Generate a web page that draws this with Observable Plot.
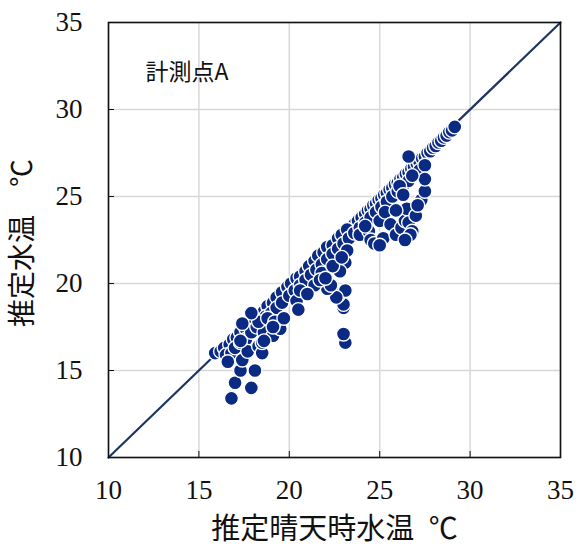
<!DOCTYPE html>
<html><head><meta charset="utf-8">
<script src="https://cdn.jsdelivr.net/npm/d3@7"></script>
<script src="https://cdn.jsdelivr.net/npm/@observablehq/plot@0.6"></script>
<style>
body{margin:0;background:#fff;}
#chart svg{display:block;}
#chart svg g[aria-label="x-axis tick label"] text,
#chart svg g[aria-label="y-axis tick label"] text{font-family:'Liberation Serif','DejaVu Serif',serif !important;}
</style>
</head><body><div id="chart"></div>
<script>
// Tick values
const ticks = [10, 15, 20, 25, 30, 35];
const refLine = [10, 35];

// Dense points along the 1:1 line at the warm end (heavily overlapped)
const denseX = [23.6, 23.8, 24.0, 24.2, 24.35, 24.5, 24.65, 24.8, 24.95, 25.1, 25.25, 25.4, 25.55, 25.7, 25.85, 26.0, 26.15, 26.3, 26.45, 26.6, 26.75, 26.9, 27.05, 27.2, 27.35, 27.5, 27.65, 27.8, 27.95, 28.1, 28.25, 28.4, 28.55, 28.7, 28.85, 29.0, 29.15];
const denseY = [23.4, 23.6, 23.8, 24.0, 24.2, 24.3, 24.5, 24.6, 24.8, 24.9, 25.1, 25.2, 25.4, 25.5, 25.7, 25.8, 26.0, 26.1, 26.3, 26.4, 26.6, 26.7, 26.9, 27.0, 27.2, 27.3, 27.5, 27.6, 27.8, 27.9, 28.1, 28.2, 28.4, 28.5, 28.7, 28.8, 29.0];

// Points on the 1:1 line
const diagX = [15.9, 16.2, 16.4, 16.7, 16.9, 17.1, 17.3, 17.6, 17.8, 18.1, 18.3, 18.6, 18.8, 19.1, 19.3, 19.6, 19.9, 20.1, 20.4, 20.6, 20.9, 21.1, 21.4, 21.6, 21.9, 22.1, 22.4, 22.7, 22.9, 23.2];
const diagY = [16.0, 16.1, 16.3, 16.5, 16.8, 16.9, 17.2, 17.4, 17.6, 17.9, 18.2, 18.4, 18.7, 18.9, 19.2, 19.5, 19.8, 20.0, 20.3, 20.4, 20.7, 21.0, 21.3, 21.6, 21.8, 22.1, 22.2, 22.6, 22.8, 23.1];

// Band just below the 1:1 line
const bandX = [16.5, 16.8, 17.0, 17.3, 17.6, 17.9, 18.2, 18.5, 18.7, 19.0, 19.3, 19.6, 20.0, 20.3, 20.6, 20.9, 21.2, 21.5, 21.8, 22.1, 22.4, 22.7, 23.0, 23.3, 23.6, 23.9, 24.2, 24.5, 24.8, 25.1, 25.4, 25.7, 26.0, 26.3, 26.6, 26.9, 27.2, 27.5];
const bandY = [15.9, 16.0, 16.3, 16.6, 16.8, 17.2, 17.5, 17.8, 18.1, 18.3, 18.6, 18.9, 19.3, 19.6, 19.9, 20.2, 20.5, 20.8, 21.1, 21.4, 21.7, 22.0, 22.3, 22.6, 22.9, 23.2, 23.5, 23.8, 24.1, 24.4, 24.7, 25.0, 25.3, 25.6, 25.9, 26.2, 26.5, 26.8];

// Lower-left tail
const tailX = [16.8, 17.0, 17.9, 18.1, 17.3, 16.6, 17.4, 17.7, 17.3, 18.3, 18.5, 18.6, 18.3, 18.8, 19.1, 19.5, 19.2, 19.7, 18.5, 17.9, 17.4, 19.1, 18.6];
const tailY = [13.4, 14.3, 14.0, 15.0, 15.0, 15.5, 15.6, 16.1, 16.7, 16.4, 16.0, 17.2, 17.8, 18.0, 17.0, 17.4, 17.8, 18.0, 16.6, 18.3, 17.7, 17.5, 16.7];

// Middle cluster below the diagonal
const midX = [23.1, 23.0, 23.0, 23.0, 22.7, 23.1, 23.1, 22.8, 22.6, 22.1, 21.8, 22.3, 21.4, 21.7, 20.4, 20.6, 20.5, 21.0, 22.0, 22.4, 23.2, 22.9];
const midY = [16.6, 17.1, 18.6, 18.8, 19.3, 19.6, 21.2, 20.7, 19.2, 19.7, 20.6, 19.9, 19.9, 20.2, 19.0, 19.6, 18.5, 19.4, 20.3, 21.0, 21.9, 21.5];

// Upper-right cluster
const upX = [23.9, 24.4, 24.5, 24.7, 25.0, 25.2, 25.3, 25.6, 25.9, 26.2, 26.4, 26.5, 26.6, 26.8, 26.7, 27.0, 27.3, 27.5, 27.5, 26.1, 26.3, 26.6, 26.8, 25.0, 24.2, 25.9, 26.4, 27.1];
const upY = [22.8, 23.0, 22.5, 22.3, 23.6, 22.6, 24.1, 23.4, 22.8, 23.2, 23.6, 24.3, 23.5, 23.0, 22.8, 23.9, 24.8, 25.3, 26.0, 25.6, 25.1, 27.3, 26.2, 22.2, 23.3, 24.2, 22.5, 24.5];

const groups = [[denseX, denseY], [diagX, diagY], [bandX, bandY], [tailX, tailY], [midX, midY], [upX, upY]];
const points = groups.flatMap(([xs, ys]) => xs.map((x, i) => ({x, y: ys[i]})));

const serif = "Liberation Serif";
const jp = "Noto Sans CJK JP";

const chart = Plot.plot({
  width: 578,
  height: 551,
  marginLeft: 108,
  marginRight: 18,
  marginTop: 22,
  marginBottom: 94,
  style: {fontFamily: serif, fontSize: "27px", color: "#111", background: "#fff"},
  x: {domain: [10, 35], ticks},
  y: {domain: [10, 35], ticks},
  marks: [
    Plot.gridX(ticks, {stroke: "#d8d8d8", strokeOpacity: 1, strokeWidth: 1.5}),
    Plot.gridY(ticks, {stroke: "#d8d8d8", strokeOpacity: 1, strokeWidth: 1.5}),
    Plot.line(refLine.map(v => ({x: v, y: v})), {x: "x", y: "y", stroke: "#1d3566", strokeWidth: 2.2}),
    Plot.dot(points, {x: "x", y: "y", r: 7, fill: "#0a2a84", stroke: "white", strokeWidth: 1.4}),
    Plot.frame({stroke: "#111", strokeWidth: 1.6}),
    Plot.axisX(ticks, {tickSize: -6, tickPadding: 28, label: null, fontFamily: serif, fontSize: 27}),
    Plot.axisY(ticks, {tickSize: -6, tickPadding: 32, label: null, fontFamily: serif, fontSize: 27}),
    Plot.text(["推定晴天時水温\u2002℃"], {frameAnchor: "bottom", lineAnchor: "middle", dy: 72, fontFamily: jp, fontSize: 29, fill: "#111"}),
    Plot.text(["推定水温\u3000℃"], {frameAnchor: "left", textAnchor: "middle", lineAnchor: "middle", rotate: -90, dx: -85, dy: 3, fontFamily: jp, fontSize: 28, fill: "#111"}),
    Plot.text(["計測点A"], {frameAnchor: "top-left", textAnchor: "start", lineAnchor: "middle", dx: 37, dy: 50, fontFamily: jp, fontSize: 23, fill: "#111"})
  ]
});
document.getElementById("chart").appendChild(chart);
</script>
</body></html>
